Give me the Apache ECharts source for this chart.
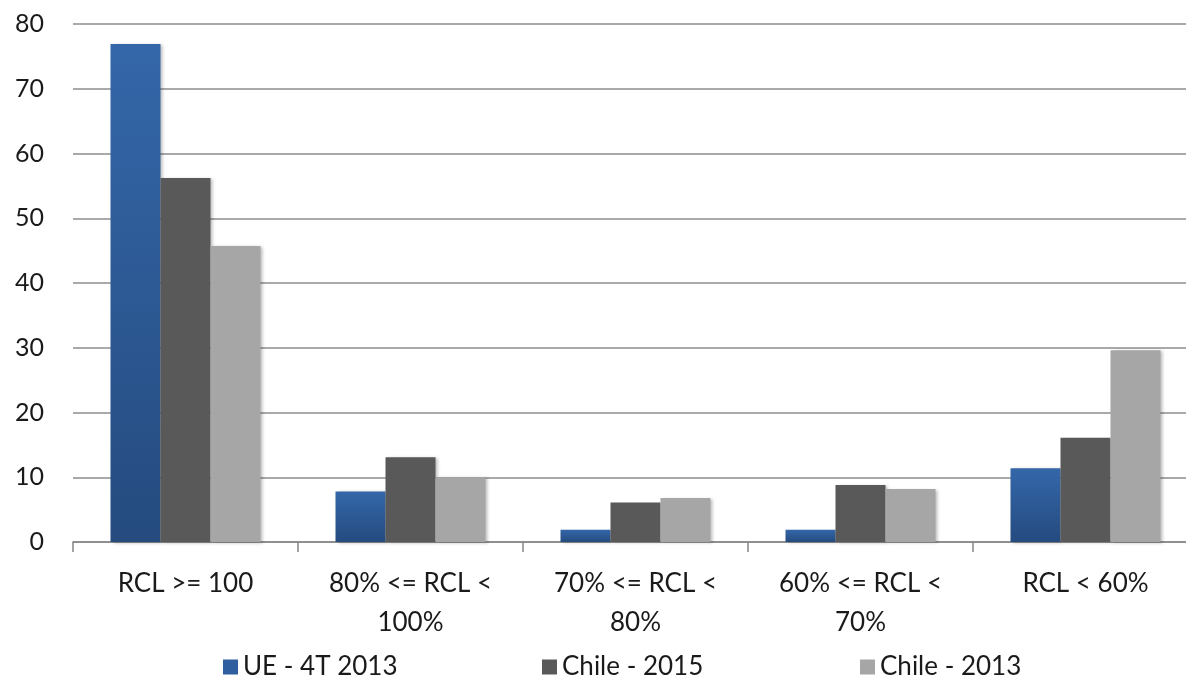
<!DOCTYPE html>
<html><head><meta charset="utf-8">
<script src="https://cdn.jsdelivr.net/npm/echarts@6/dist/echarts.min.js"></script>
<style>html,body{margin:0;padding:0;background:#fff}#c{width:1186px;height:675px}</style>
</head><body><div id="c"></div>
<script>
var categories = ['RCL >= 100', '80% <= RCL <\n100%', '70% <= RCL <\n80%', '60% <= RCL <\n70%', 'RCL < 60%'];
var seriesNames = ['UE - 4T 2013', 'Chile - 2015', 'Chile - 2013'];
var ue2013 = [76.9, 7.8, 1.9, 1.9, 11.4];
var chile2015 = [56.2, 13.1, 6.1, 8.8, 16.1];
var chile2013 = [45.7, 10.0, 6.8, 8.2, 29.6];
var yTicks = [0, 10, 20, 30, 40, 50, 60, 70, 80];

var FONT = 'Lato';
var chart = echarts.init(document.getElementById('c'));
var shadow = {shadowBlur: 3, shadowOffsetX: 2, shadowOffsetY: 1, shadowColor: 'rgba(0,0,0,0.25)'};
var blue = new echarts.graphic.LinearGradient(0, 0, 0, 1, [
  {offset: 0, color: '#3467a9'}, {offset: 1, color: '#254b7f'}]);
var legendLefts = [218, 537, 855];
var legendColors = ['#2f5f9e', '#595959', '#a6a6a6'];
chart.setOption({
  animation: false,
  textStyle: {fontFamily: FONT},
  grid: {left: 73, width: 1125, top: 24, height: 518, containLabel: false, outerBoundsMode: 'none'},
  legend: seriesNames.map(function (n, i) {
    return {
      data: [{name: n, itemStyle: {color: legendColors[i]}}],
      left: legendLefts[i], top: 649, itemWidth: 15, itemHeight: 15, itemGap: 0,
      icon: 'rect', selectedMode: false,
      textStyle: {fontFamily: FONT, fontSize: 26, color: '#1a1a1a'}
    };
  }),
  xAxis: {
    type: 'category', data: categories,
    axisLine: {lineStyle: {color: '#868686', width: 1.5}},
    axisTick: {show: true, length: 10, lineStyle: {color: '#868686', width: 1.5}},
    axisLabel: {fontFamily: FONT, fontSize: 26, color: '#1a1a1a', lineHeight: 39, margin: 22, interval: 0}
  },
  yAxis: {
    type: 'value', min: yTicks[0], max: yTicks[yTicks.length - 1], interval: 10,
    axisLine: {show: false}, axisTick: {show: false},
    splitLine: {lineStyle: {color: '#8c8c8c', width: 1.5}},
    axisLabel: {fontFamily: FONT, fontSize: 25, color: '#1a1a1a', margin: 29}
  },
  series: [
    {name: seriesNames[0], type: 'bar', data: ue2013, barWidth: 50, barGap: '0%',
      itemStyle: Object.assign({color: blue}, shadow)},
    {name: seriesNames[1], type: 'bar', data: chile2015, barWidth: 50, barGap: '0%',
      itemStyle: Object.assign({color: '#595959'}, shadow)},
    {name: seriesNames[2], type: 'bar', data: chile2013, barWidth: 50, barGap: '0%',
      itemStyle: Object.assign({color: '#a6a6a6'}, shadow)}
  ]
});
</script></body></html>
